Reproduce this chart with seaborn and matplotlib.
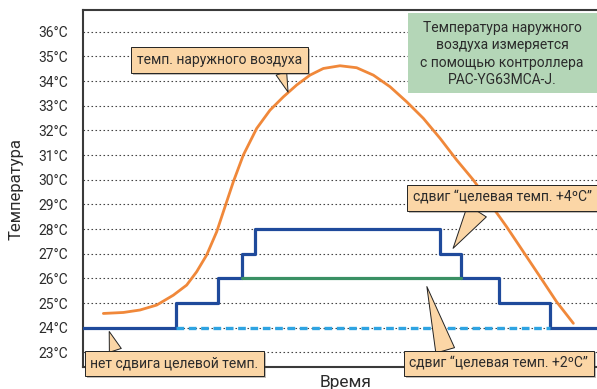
import matplotlib
matplotlib.use("Agg")
import matplotlib.pyplot as plt
import matplotlib.patheffects as pe
from matplotlib.patches import Rectangle
import seaborn as sns

# --- DATEN ---
# Zeitachse ohne Einheit (0..100), Temperaturen in °C
STEP_TIME = [0, 18.1, 26.3, 30.9, 33.5, 69.5, 73.5, 80.9, 90.9, 100]
STEP_TEMP = [24, 25, 26, 27, 28, 27, 26, 25, 24, 24]      # сдвиг +4°C

SHIFT2_TIME = [30.9, 73.5]
SHIFT2_TEMP = [26, 26]                                   # сдвиг +2°C

BASE_TIME = [18.1, 90.9]
BASE_TEMP = [24, 24]                                     # без сдвига

OUTDOOR_TIME = [3.96, 7.85, 11.09, 14.33, 17.57, 20.17, 22.11, 24.06, 26.01, 27.30,
                29.25, 31.19, 33.79, 36.38, 38.98, 41.57, 44.16, 46.76, 50.00, 53.24,
                56.49, 59.73, 62.97, 66.21, 69.46, 72.70, 75.94, 79.18, 82.43, 85.67,
                88.91, 92.15, 95.40]
OUTDOOR_TEMP = [24.58, 24.62, 24.72, 24.92, 25.32, 25.73, 26.27, 26.95, 27.89, 28.70,
                29.92, 31.00, 32.08, 32.82, 33.36, 33.84, 34.24, 34.51, 34.62, 34.54,
                34.24, 33.77, 33.16, 32.49, 31.68, 30.80, 29.99, 29.04, 28.09, 27.08,
                26.07, 25.05, 24.18]

TEMP_TICKS = list(range(23, 37))
TICK_LABELS = [f"{t}°C" for t in TEMP_TICKS]

# --- STIL ---
PEACH = "#fbd6a6"
GREEN_BOX = "#b4d6b7"
TXT = "#2b2b2b"

sns.set_theme(style="white")
plt.rcParams["font.family"] = ["Roboto", "DejaVu Sans"]

fig = plt.figure(figsize=(5.97, 3.89), dpi=100)
ax = fig.add_axes([83 / 597, 22 / 389, 514 / 597, 357 / 389])

sns.lineplot(x=STEP_TIME, y=STEP_TEMP, drawstyle="steps-post", color="#1f4a9b",
             lw=2.3, estimator=None, sort=False, ax=ax, zorder=3)
sns.lineplot(x=BASE_TIME, y=BASE_TEMP, color="#2ea4e2", lw=2.4,
             linestyle=(0, (2.3, 1.4)), estimator=None, sort=False, ax=ax, zorder=3.5)
sns.lineplot(x=SHIFT2_TIME, y=SHIFT2_TEMP, color="#3a9064", lw=2.3,
             estimator=None, sort=False, ax=ax, zorder=3.5)
sns.lineplot(x=OUTDOOR_TIME, y=OUTDOOR_TEMP, color="#f0883a", lw=2.0,
             estimator=None, sort=False, ax=ax, zorder=4)

ax.set_xlim(0, 100)
ax.set_ylim(22.41, 36.88)
ax.set_yticks(TEMP_TICKS)
ax.set_yticklabels(TICK_LABELS)
ax.set_xticks([])
ax.tick_params(axis="y", length=0, pad=11, labelsize=10, colors=TXT)
ax.yaxis.grid(True, color="#444444", lw=0.8, linestyle=(0, (1.4, 2.2)))
ax.xaxis.grid(False)

for side in ["left", "top", "bottom"]:
    ax.spines[side].set_color("#3a3a3a")
    ax.spines[side].set_linewidth(1.5)
ax.spines["right"].set_visible(False)

ax.set_ylabel("Температура", fontsize=12, color=TXT)
ax.yaxis.set_label_coords(-0.115, 0.5)
ax.set_xlabel("Время", fontsize=12.5, color=TXT)
ax.xaxis.set_label_coords(0.51, -0.022)


def callout(text, tip, box, relpos, tail):
    a = ax.annotate(text, xy=tip, xytext=box, xycoords="data", textcoords="data",
                    ha="center", va="center", fontsize=10, color=TXT,
                    bbox=dict(boxstyle="square,pad=0.42", fc=PEACH, ec="#222222", lw=0.7),
                    arrowprops=dict(arrowstyle=f"wedge,tail_width={tail},shrink_factor=0.5",
                                    fc=PEACH, ec="#222222", lw=0.7, relpos=relpos,
                                    shrinkA=0, shrinkB=0),
                    annotation_clip=False, zorder=6)
    a.get_bbox_patch().set_path_effects([pe.SimplePatchShadow(offset=(1.5, -1.5), alpha=0.35),
                                         pe.Normal()])
    return a


callout("темп. наружного воздуха", (39.9, 33.55), (26.6, 34.85), (0.86, 0.0), 0.8)
callout("нет сдвига целевой темп.", (5.1, 23.85), (17.8, 22.55), (0.16, 1.0), 0.9)
callout("сдвиг \u201cцелевая темп. +2ºC\u201d", (66.9, 25.67), (80.9, 22.55), (0.21, 1.0), 1.4)
callout("сдвиг \u201cцелевая темп. +4ºC\u201d", (72.0, 27.22), (81.6, 29.27), (0.38, 0.0), 1.6)

# grüner Infokasten
ax.add_patch(Rectangle((408 / 597, 1 - 93 / 389), 189 / 597, 80 / 389,
                       transform=fig.transFigure, fc=GREEN_BOX, ec="none",
                       clip_on=False, zorder=5))
fig.text(502 / 597, 1 - 54 / 389,
         "Температура наружного\nвоздуха измеряется\nс помощью контроллера\nPAC-YG63MCA-J.",
         ha="center", va="center", multialignment="center", fontsize=10,
         color=TXT, linespacing=1.3, zorder=6)

fig.savefig("out.png", dpi=100)
